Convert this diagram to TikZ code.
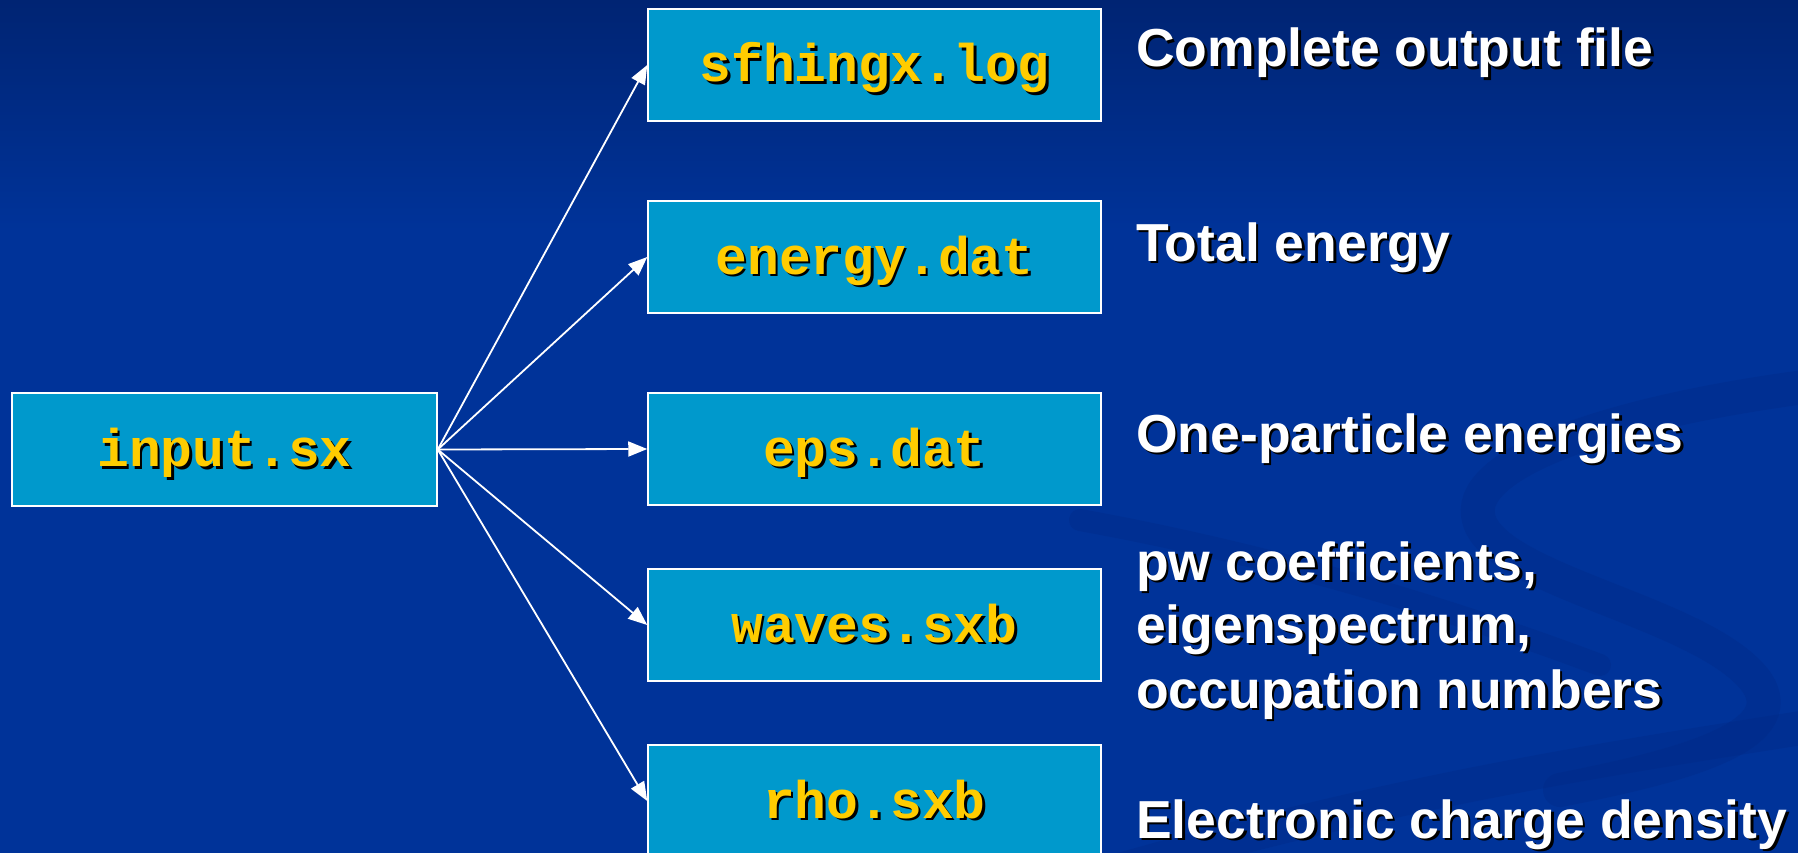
\documentclass[tikz,border=0pt]{standalone}
\usepackage{fontspec}
\setmainfont{Liberation Sans}
\newfontfamily\monob{Liberation Mono}[BoldFont={* Bold}]
\usetikzlibrary{arrows.meta}
\definecolor{bgtop}{RGB}{0,36,115}
\definecolor{bgmain}{RGB}{0,51,153}
\definecolor{swirl}{RGB}{0,40,130}
\definecolor{boxblue}{RGB}{0,153,204}
\definecolor{gold}{RGB}{255,204,0}
\newcommand\shadowtxt[2]{\leavevmode\rlap{\kern2.5pt\raisebox{-2.5pt}{\color{black}#2}}{\color{#1}#2}}
\tikzset{
  filebox/.style={draw=white, line width=1.5pt, fill=boxblue, minimum width=453pt, minimum height=112pt,
    inner sep=0pt, text height=40pt, text depth=6pt, font=\monob\bfseries\fontsize{53}{60}\selectfont},
  label/.style={anchor=base west, inner sep=0pt, font=\bfseries\fontsize{53.5}{62}\selectfont},
  link/.style={draw=white, line width=1.8pt, -{Triangle[length=19pt,width=15pt]}},
  swirlline/.style={draw=swirl, line width=34pt, opacity=0.3, line cap=round}
}
\begin{document}
\begin{tikzpicture}[x=1pt,y=-1pt]
\useasboundingbox (0,0) rectangle (1798,853);
\fill[bgmain] (0,0) rectangle (1798,853);
\shade[top color=bgtop, bottom color=bgmain] (0,0) rectangle (1798,230);
% background swirl
\begin{scope}
\clip (0,0) rectangle (1798,853);
\draw[swirlline] (1820,385) .. controls (1620,410) and (1470,460) .. (1478,515)
  .. controls (1486,580) and (1700,610) .. (1755,680) .. controls (1800,740) and (1660,770) .. (1560,790);
\draw[swirlline] (1120,870) .. controls (1400,790) and (1600,760) .. (1820,725);
\draw[swirlline, line width=22pt] (1080,520) .. controls (1300,560) and (1480,620) .. (1600,665);
\end{scope}
% boxes
\node[filebox, minimum width=425pt, minimum height=113pt] (input) at (224.5,449.5) {\shadowtxt{gold}{input.sx}};
\node[filebox] (log) at (874.5,65) {\shadowtxt{gold}{sfhingx.log}};
\node[filebox] (energy) at (874.5,257) {\shadowtxt{gold}{energy.dat}};
\node[filebox] (eps) at (874.5,449) {\shadowtxt{gold}{eps.dat}};
\node[filebox] (waves) at (874.5,625) {\shadowtxt{gold}{waves.sxb}};
\node[filebox] (rho) at (874.5,801) {\shadowtxt{gold}{rho.sxb}};
% arrows
\foreach \t in {log,energy,eps,waves,rho}
  \draw[link] (input.east) -- (\t.west);
% labels
\node[label] (l1) at (1136,67) {\shadowtxt{white}{Complete output file}};
\node[label] (l2) at (1136,261) {\shadowtxt{white}{Total energy}};
\node[label] (l3) at (1136,452) {\shadowtxt{white}{One-particle energies}};
\node[label] (l4a) at (1136,580) {\shadowtxt{white}{pw coefficients,}};
\node[label] (l4b) at (1136,643) {\shadowtxt{white}{eigenspectrum,}};
\node[label] (l4c) at (1136,708) {\shadowtxt{white}{occupation numbers}};
\node[label] (l5) at (1136,838) {\shadowtxt{white}{Electronic charge density}};
\end{tikzpicture}
\end{document}
